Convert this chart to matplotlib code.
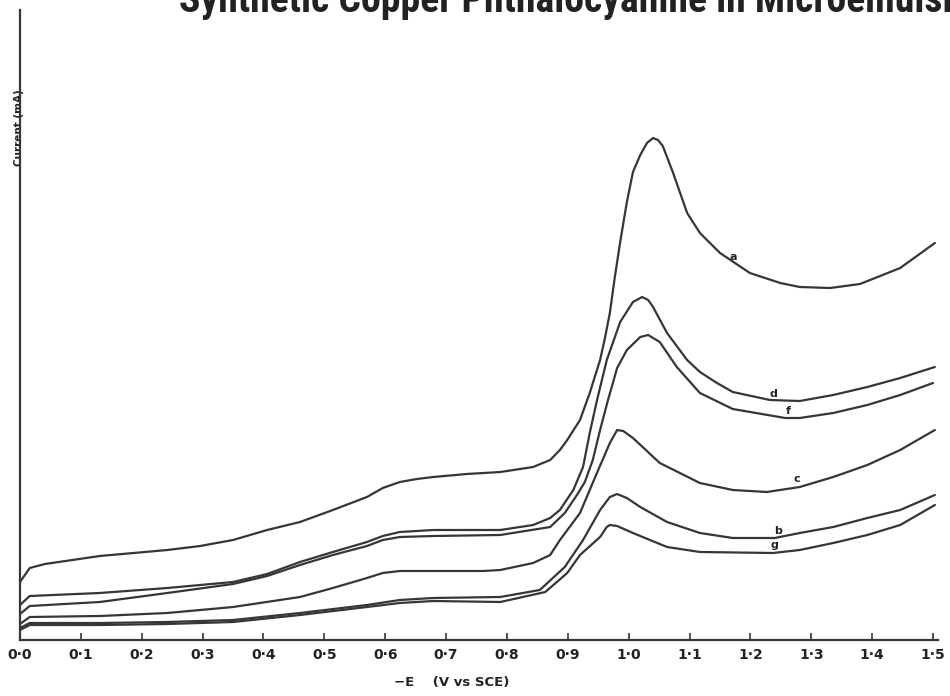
import matplotlib
matplotlib.use("Agg")
import matplotlib.pyplot as plt
from matplotlib import font_manager

# 掃描圖讀值：-E (V vs SCE) 與電流（任意單位）

e_a = [0.000, 0.016, 0.041, 0.131, 0.242, 0.296, 0.350, 0.406, 0.460, 0.514, 0.570, 0.596,
       0.624, 0.652, 0.679, 0.734, 0.789, 0.843, 0.871, 0.887, 0.899, 0.920, 0.936, 0.953,
       0.961, 0.969, 0.977, 0.986, 0.997, 1.007, 1.019, 1.030, 1.040, 1.048, 1.056, 1.073,
       1.096, 1.117, 1.150, 1.199, 1.249, 1.281, 1.331, 1.380, 1.446, 1.503]
i_a = [0.58, 0.72, 0.76, 0.84, 0.90, 0.94, 1.00, 1.10, 1.18, 1.30, 1.43, 1.52,
       1.58, 1.61, 1.63, 1.66, 1.68, 1.73, 1.80, 1.90, 2.00, 2.20, 2.47, 2.80,
       3.02, 3.27, 3.62, 3.98, 4.38, 4.68, 4.85, 4.97, 5.02, 5.00, 4.94, 4.67,
       4.27, 4.07, 3.87, 3.67, 3.57, 3.53, 3.52, 3.56, 3.72, 3.97]

e_b = [0.000, 0.016, 0.131, 0.242, 0.350, 0.460, 0.570, 0.624, 0.679, 0.789, 0.854, 0.895,
       0.925, 0.953, 0.969, 0.981, 0.997, 1.019, 1.063, 1.117, 1.171, 1.240, 1.281, 1.336,
       1.392, 1.446, 1.503]
i_b = [0.12, 0.17, 0.17, 0.18, 0.20, 0.27, 0.35, 0.40, 0.42, 0.43, 0.50, 0.73,
       1.00, 1.30, 1.43, 1.46, 1.42, 1.33, 1.18, 1.07, 1.02, 1.02, 1.07, 1.13,
       1.22, 1.30, 1.45]

e_c = [0.000, 0.016, 0.131, 0.242, 0.350, 0.460, 0.514, 0.570, 0.596, 0.624, 0.761, 0.789,
       0.843, 0.871, 0.887, 0.920, 0.945, 0.969, 0.981, 0.991, 1.007, 1.051, 1.117, 1.171,
       1.227, 1.281, 1.336, 1.392, 1.446, 1.503]
i_c = [0.16, 0.23, 0.24, 0.27, 0.33, 0.43, 0.52, 0.62, 0.67, 0.69, 0.69, 0.70,
       0.77, 0.85, 1.00, 1.27, 1.63, 1.97, 2.10, 2.09, 2.02, 1.77, 1.57, 1.50,
       1.48, 1.53, 1.63, 1.75, 1.90, 2.10]

e_d = [0.000, 0.016, 0.131, 0.242, 0.350, 0.406, 0.460, 0.514, 0.570, 0.596, 0.624, 0.679,
       0.789, 0.843, 0.871, 0.887, 0.909, 0.925, 0.936, 0.948, 0.964, 0.986, 1.007, 1.022,
       1.032, 1.040, 1.063, 1.096, 1.117, 1.145, 1.171, 1.232, 1.281, 1.336, 1.392, 1.446,
       1.503]
i_d = [0.35, 0.44, 0.47, 0.52, 0.58, 0.66, 0.78, 0.88, 0.98, 1.04, 1.08, 1.10,
       1.10, 1.15, 1.22, 1.30, 1.50, 1.73, 2.07, 2.40, 2.80, 3.18, 3.38, 3.43,
       3.40, 3.33, 3.07, 2.80, 2.68, 2.57, 2.48, 2.40, 2.39, 2.45, 2.53, 2.62,
       2.73]

e_f = [0.000, 0.016, 0.131, 0.242, 0.350, 0.406, 0.460, 0.514, 0.570, 0.596, 0.624, 0.679,
       0.789, 0.871, 0.895, 0.915, 0.928, 0.941, 0.953, 0.966, 0.981, 0.997, 1.019, 1.032,
       1.051, 1.079, 1.117, 1.171, 1.257, 1.281, 1.336, 1.392, 1.446, 1.500]
i_f = [0.26, 0.34, 0.38, 0.47, 0.56, 0.64, 0.75, 0.85, 0.94, 1.00, 1.03, 1.04,
       1.05, 1.13, 1.27, 1.45, 1.58, 1.80, 2.10, 2.40, 2.72, 2.90, 3.03, 3.05,
       2.98, 2.73, 2.47, 2.31, 2.22, 2.22, 2.27, 2.35, 2.45, 2.57]

e_g = [0.000, 0.016, 0.131, 0.242, 0.350, 0.460, 0.570, 0.624, 0.679, 0.789, 0.863, 0.899,
       0.920, 0.953, 0.964, 0.969, 0.981, 1.007, 1.063, 1.117, 1.237, 1.281, 1.336, 1.392,
       1.446, 1.503]
i_g = [0.10, 0.15, 0.15, 0.16, 0.18, 0.25, 0.33, 0.37, 0.39, 0.38, 0.48, 0.67,
       0.85, 1.03, 1.13, 1.15, 1.14, 1.07, 0.93, 0.88, 0.87, 0.90, 0.97, 1.05,
       1.15, 1.35]

# 曲線標示字母與位置
curve_names = ["a", "d", "f", "c", "b", "g"]
name_e = [1.171, 1.237, 1.262, 1.277, 1.245, 1.240]
name_i = [3.83, 2.46, 2.29, 1.61, 1.09, 0.95]

tick_values = [0.0, 0.1, 0.2, 0.3, 0.4, 0.5, 0.6, 0.7, 0.8, 0.9, 1.0, 1.1, 1.2, 1.3, 1.4, 1.5]
tick_labels = ["0·0", "0·1", "0·2", "0·3", "0·4", "0·5", "0·6", "0·7",
               "0·8", "0·9", "1·0", "1·1", "1·2", "1·3", "1·4", "1·5"]

TITLE = "Synthetic Copper Phthalocyanine in Microemulsion"
TITLE_SEEN = "Synthetic Copper Phthalocyanine in Microemulsi"  # 原圖右緣被裁到這裡

INK = "#363636"


def add_title(fig):
    """標題上半部在原圖被裁掉，這裡照樣放在畫面頂端讓它超出邊界。"""
    names = {f.name for f in font_manager.fontManager.ttflist}
    family = next((n for n in ["Liberation Sans Narrow", "Roboto Condensed"] if n in names),
                  "DejaVu Sans")
    title = fig.text(179 / 950, 1 - 12 / 696, TITLE, family=family, fontsize=20,
                     fontweight="bold", color="#222222", ha="left", va="baseline")
    # 量測可見部分寬度，縮放字級讓它剛好到右邊界
    probe = fig.text(0, 0.5, TITLE_SEEN, family=family, fontsize=20, fontweight="bold")
    fig.canvas.draw()
    width = probe.get_window_extent().width
    probe.remove()
    title.set_fontsize(20 * (950 - 179) / width)


def draw_chart():
    fig = plt.figure(figsize=(9.5, 6.96), dpi=100)
    ax = fig.add_axes([20 / 950, 1 - 640 / 696, 918 / 950, 630 / 696])

    curves = [(e_a, i_a), (e_b, i_b), (e_c, i_c), (e_d, i_d), (e_f, i_f), (e_g, i_g)]
    for e, i in curves:
        ax.plot(e, i, color=INK, lw=1.6, solid_joinstyle="round", solid_capstyle="round")

    for name, e, i in zip(curve_names, name_e, name_i):
        ax.text(e, i, name, ha="center", va="center", fontsize=8, fontweight="bold", color="#222222")

    ax.set_xlim(0, 918 / 608.7)
    ax.set_ylim(0, 6.3)

    for side in ["top", "right"]:
        ax.spines[side].set_visible(False)
    for side in ["left", "bottom"]:
        ax.spines[side].set_color(INK)
        ax.spines[side].set_linewidth(1.6)

    ax.set_xticks(tick_values, tick_labels)
    ax.set_yticks([])
    ax.tick_params(axis="x", direction="in", length=5, width=1.2, color=INK,
                   pad=6, labelsize=10, labelcolor="#222222")
    for lbl in ax.get_xticklabels():
        lbl.set_fontweight("bold")

    ax.set_xlabel("−E    (V vs SCE)", fontsize=9.5, fontweight="bold", color="#222222")
    ax.xaxis.set_label_coords((452 - 20) / 918, -(676 - 640) / 630)
    ax.set_ylabel("Current (mA)", fontsize=7.5, fontweight="bold", color="#222222")
    ax.yaxis.set_label_coords(0.004, (640 - 128) / 630)

    add_title(fig)
    fig.savefig("out.png", dpi=100, facecolor="white")


draw_chart()
